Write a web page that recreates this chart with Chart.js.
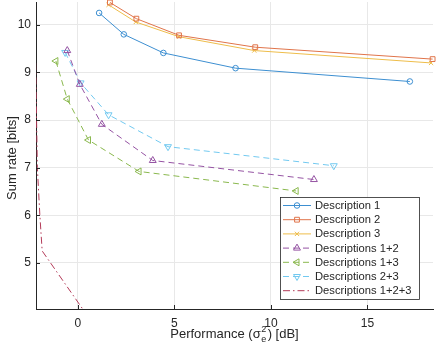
<!DOCTYPE html>
<html>
<head>
<meta charset="utf-8">
<script src="https://cdn.jsdelivr.net/npm/chart.js@4"></script>
<style>
  body { margin: 0; background: #fff; }
  #wrap { width: 436px; height: 355px; }
</style>
</head>
<body>
<div id="wrap"><canvas id="myChart" width="436" height="355"></canvas></div>
<script>
/* data */
const labels = ['Description 1', 'Description 2', 'Description 3',
  'Descriptions 1+2', 'Descriptions 1+3', 'Descriptions 2+3', 'Descriptions 1+2+3'];

const d1x = [1.10, 2.38, 4.43, 8.17, 17.2];
const d1y = [10.25, 9.80, 9.41, 9.09, 8.81];
const d2x = [1.66, 3.03, 5.24, 9.19, 18.38];
const d2y = [10.47, 10.13, 9.78, 9.53, 9.28];
const d3x = [1.59, 3.00, 5.24, 9.14, 18.30];
const d3y = [10.42, 10.06, 9.75, 9.46, 9.20];
const d12x = [-0.55, 0.10, 1.24, 3.88, 12.23];
const d12y = [9.46, 8.75, 7.91, 7.15, 6.75];
const d13x = [-1.14, -0.55, 0.55, 3.17, 11.31];
const d13y = [9.24, 8.44, 7.58, 6.92, 6.51];
const d23x = [-0.66, 0.14, 1.59, 4.67, 13.26];
const d23y = [9.42, 8.78, 8.11, 7.44, 7.04];
const d123x = [-2.19, -2.10, -1.97, -1.85, 0.30];
const d123y = [9.20, 7.00, 6.00, 5.25, 4.00];

const xTicks = [0, 5, 10, 15];
const yTicks = [5, 6, 7, 8, 9, 10];

const colors = ['#3d8fd1', '#e0744a', '#eebd4a', '#9553a3', '#8ab84e', '#72c9f0', '#b33a58'];

function pts(xs, ys) { return xs.map((x, i) => ({ x: x, y: ys[i] })); }

const series = [
  { data: pts(d1x, d1y), style: 'circle', r: 2.8, rot: 0, dash: [] },
  { data: pts(d2x, d2y), style: 'rect', r: 3.4, rot: 0, dash: [] },
  { data: pts(d3x, d3y), style: 'crossRot', r: 3, rot: 0, dash: [] },
  { data: pts(d12x, d12y), style: 'triangle', r: 4, rot: 0, dash: [6, 4] },
  { data: pts(d13x, d13y), style: 'triangle', r: 4, rot: -90, dash: [6, 4] },
  { data: pts(d23x, d23y), style: 'triangle', r: 4, rot: 180, dash: [6, 4] },
  { data: pts(d123x, d123y), style: false, r: 0, rot: 0, dash: [7, 3, 1.5, 3] }
];

const datasets = series.map((s, i) => ({
  label: labels[i],
  data: s.data,
  borderColor: colors[i],
  backgroundColor: 'rgba(0,0,0,0)',
  borderWidth: 1,
  borderDash: s.dash,
  pointStyle: s.style,
  pointRadius: s.r,
  pointRotation: s.rot,
  pointBorderWidth: 1,
  pointBorderColor: colors[i],
  pointBackgroundColor: 'rgba(0,0,0,0)',
  showLine: true,
  tension: 0,
  clip: i === 6 ? 0 : false
}));

const txt = '#262626';
const fam = '"Liberation Sans", Arial, Helvetica, sans-serif';

/* legend, titles and inward ticks */
const decor = {
  id: 'decor',
  afterDraw(chart) {
    const c = chart.ctx;
    const a = chart.chartArea;
    const xs = chart.scales.x, ys = chart.scales.y;
    c.save();

    // inward tick marks
    c.strokeStyle = txt;
    c.lineWidth = 1;
    c.beginPath();
    xTicks.forEach(v => {
      const px = Math.round(xs.getPixelForValue(v)) + 0.5;
      c.moveTo(px, a.bottom); c.lineTo(px, a.bottom - 4);
    });
    yTicks.forEach(v => {
      const py = Math.round(ys.getPixelForValue(v)) + 0.5;
      c.moveTo(a.left, py); c.lineTo(a.left + 4, py);
    });
    c.stroke();

    // x title with sigma_e^2
    c.fillStyle = txt;
    c.textBaseline = 'alphabetic';
    c.font = '13px ' + fam;
    const p1 = 'Performance (\u03c3', p2 = ') [dB]';
    c.font = '9px ' + fam;
    const wS = Math.max(c.measureText('2').width, c.measureText('e').width);
    c.font = '13px ' + fam;
    const w1 = c.measureText(p1).width, w2 = c.measureText(p2).width;
    let x0 = (a.left + a.right) / 2 - (w1 + wS + 2 + w2) / 2;
    const base = 338;
    c.textAlign = 'left';
    c.fillText(p1, x0, base);
    c.font = '9px ' + fam;
    c.fillText('2', x0 + w1 + 0.5, base - 6);
    c.fillText('e', x0 + w1 + 0.5, base + 4);
    c.font = '13px ' + fam;
    c.fillText(p2, x0 + w1 + wS + 2, base);

    // y title
    c.save();
    c.translate(12, 158);
    c.rotate(-Math.PI / 2);
    c.textAlign = 'center';
    c.textBaseline = 'middle';
    c.fillText('Sum rate [bits]', 0, 0);
    c.restore();

    // legend box
    const bx = 280.5, by = 197.5, bw = 139, bh = 102;
    c.fillStyle = '#fff';
    c.fillRect(bx, by, bw, bh);
    c.strokeStyle = txt;
    c.lineWidth = 0.8;
    c.setLineDash([]);
    c.strokeRect(bx, by, bw, bh);
    c.font = '11.2px ' + fam;
    c.textAlign = 'left';
    c.textBaseline = 'middle';
    const drawPoint = Chart.helpers && Chart.helpers.drawPoint;
    series.forEach((s, i) => {
      const ry = 205.5 + i * 14.2;
      c.strokeStyle = colors[i];
      c.lineWidth = 1;
      c.setLineDash(s.dash);
      c.beginPath();
      c.moveTo(283, ry); c.lineTo(311, ry);
      c.stroke();
      c.setLineDash([]);
      if (s.style && drawPoint) {
        c.strokeStyle = colors[i];
        c.fillStyle = 'rgba(0,0,0,0)';
        drawPoint(c, { pointStyle: s.style, rotation: s.rot, radius: s.r, borderWidth: 1 }, 297, ry);
      }
      c.fillStyle = txt;
      c.fillText(labels[i], 315, ry + 0.5);
    });
    c.restore();
  }
};

const ctx = document.getElementById('myChart');

new Chart(ctx, {
  type: 'scatter',
  data: { datasets: datasets },
  options: {
    responsive: false,
    animation: false,
    layout: { autoPadding: false, padding: { top: 2, right: 3, left: 0, bottom: 0 } },
    plugins: {
      legend: { display: false },
      tooltip: { enabled: false }
    },
    scales: {
      x: {
        type: 'linear',
        min: -2.17,
        max: 18.4,
        afterFit: s => { s.height = 46; s.paddingLeft = 0; s.paddingRight = 0; },
        afterBuildTicks: s => { s.ticks = xTicks.map(v => ({ value: v })); },
        ticks: { color: txt, font: { family: fam, size: 12 }, padding: 7 },
        grid: { color: '#e8e8e8', drawTicks: false },
        border: { display: true, color: txt, width: 1 }
      },
      y: {
        type: 'linear',
        min: 4.03,
        max: 10.48,
        afterFit: s => { s.width = 36; s.paddingTop = 0; s.paddingBottom = 0; },
        afterBuildTicks: s => { s.ticks = yTicks.map(v => ({ value: v })); },
        ticks: { color: txt, font: { family: fam, size: 12 }, padding: 5 },
        grid: { color: '#e8e8e8', drawTicks: false },
        border: { display: true, color: txt, width: 1 }
      }
    }
  },
  plugins: [decor]
});
</script>
</body>
</html>
